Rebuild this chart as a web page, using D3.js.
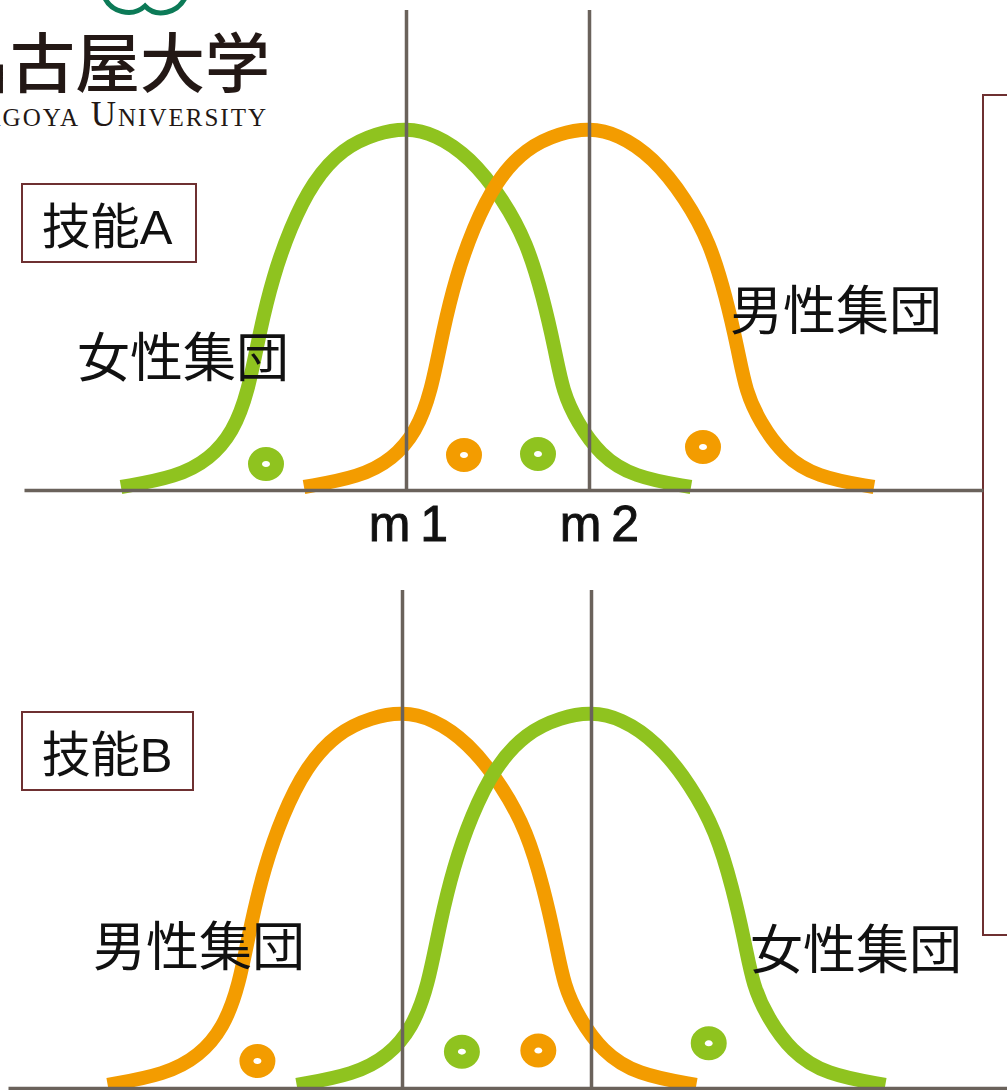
<!DOCTYPE html>
<html>
<head>
<meta charset="utf-8">
<script src="https://cdn.jsdelivr.net/npm/d3@7"></script>
<style>
  html, body { margin: 0; padding: 0; background: #fff; overflow: hidden; }
  text { fill: #111; font-family: "Liberation Sans", "Noto Sans CJK JP", sans-serif; }
</style>
</head>
<body>
<svg id="chart" width="1007" height="1090"></svg>
<script>
// Curve shape: offset from the group mean, height above baseline
const curveOffsets = [-285, -229, -196, -173, -158, -146, -133, -116, -93, -63, -29, 0, 29, 64, 97, 121, 137, 149, 157, 171, 194, 227, 285];
const curveHeights = [3, 13, 31, 58, 97, 160, 213, 262, 309, 342, 357, 362, 356, 333, 291, 247, 193, 140, 98, 68, 35, 13, 3];

// Group means (tick positions) and their labels
const means = [0, 183];
const meanLabels = ["m 1", "m 2"];

// Small ring markers: first group sits on the left curve, second on the right
const leftDotScores = [-140, 132];
const leftDotHeights = [26, 36];
const rightDotScores = [58, 297];
const rightDotHeights = [35, 43];

const GREEN = "#8fc31f", ORANGE = "#f39c00", AXIS = "#6a625b", BOX = "#6e3031";

const panels = [
    { title: "技能A", left: "女性集団", right: "男性集団", leftColor: GREEN, rightColor: ORANGE,
      xRange: [406, 589], yRange: [490, 130], axisFrom: 24, axisTo: 983, tickTop: 10, tickText: meanLabels,
      box: [22, 184, 174, 78], titleX: 107, titleY: 227, leftX: 183, leftY: 358, rightX: 836, rightY: 311 },
    { title: "技能B", left: "男性集団", right: "女性集団", leftColor: ORANGE, rightColor: GREEN,
      xRange: [402, 591], yRange: [1088, 714], axisFrom: 8, axisTo: 1007, tickTop: 590, tickText: ["", ""],
      box: [22, 712, 171, 78], titleX: 107, titleY: 755, leftX: 199, leftY: 947, rightX: 856, rightY: 950 }
];

// Nudge of the tick labels so they sit where the picture has them
const labelNudge = [2, 10];

const svg = d3.select("#chart");

// Logo
svg.append("path")
    .attr("d", "M104,-4 C110,12 132,18 145,6 C156,18 178,14 186,-4")
    .attr("fill", "none")
    .attr("stroke", "#0c7a57")
    .attr("stroke-width", 5);
svg.append("text")
    .attr("x", 270).attr("y", 87)
    .attr("text-anchor", "end")
    .style("font-size", "65px")
    .style("font-weight", 500)
    .style("font-family", "'Noto Sans CJK JP'")
    .style("fill", "#231815")
    .text("名古屋大学");
svg.append("text")
    .attr("x", 268).attr("y", 126)
    .attr("text-anchor", "end")
    .style("font-family", "'Liberation Serif'")
    .style("font-variant", "small-caps")
    .style("font-size", "35px")
    .style("letter-spacing", "2px")
    .style("fill", "#231815")
    .text("Nagoya University");

// Bracket at the right edge
svg.append("path")
    .attr("d", "M1007,95 H983 V935 H1007")
    .attr("fill", "none")
    .attr("stroke", BOX)
    .attr("stroke-width", 2);

panels.forEach(p => {
    const pxPerUnit = (p.xRange[1] - p.xRange[0]) / (means[1] - means[0]);

    const xScale = d3.scaleLinear()
        .domain([means[0] + (p.axisFrom - p.xRange[0]) / pxPerUnit, means[1] + (p.axisTo - p.xRange[1]) / pxPerUnit])
        .range([p.axisFrom, p.axisTo]);

    const yScale = d3.scaleLinear()
        .domain([0, 360])
        .range(p.yRange);

    const g = svg.append("g");

    // Curves, left group first
    [[means[0], p.leftColor], [means[1], p.rightColor]].forEach(([mean, color]) => {
        const line = d3.line()
            .x(i => xScale(mean + curveOffsets[i]))
            .y(i => yScale(curveHeights[i]))
            .curve(d3.curveBasis);
        g.append("path")
            .attr("d", line(d3.range(curveOffsets.length)))
            .attr("fill", "none")
            .attr("stroke", color)
            .attr("stroke-width", 14);
    });

    // Ring markers
    [[leftDotScores, leftDotHeights, p.leftColor], [rightDotScores, rightDotHeights, p.rightColor]].forEach(([xs, hs, color]) => {
        g.selectAll(null)
            .data(xs.map((x, i) => [x, hs[i]]))
            .enter().append("ellipse")
            .attr("cx", d => xScale(d[0]))
            .attr("cy", d => yScale(d[1]))
            .attr("rx", 11)
            .attr("ry", 10)
            .attr("fill", "#fff")
            .attr("stroke", color)
            .attr("stroke-width", 14);
    });

    // Axis: the ticks run up as the mean lines
    const axis = g.append("g")
        .attr("transform", `translate(0,${p.yRange[0]})`)
        .call(d3.axisBottom(xScale)
            .tickValues(means)
            .tickSizeInner(-(p.yRange[0] - p.tickTop))
            .tickSizeOuter(0)
            .tickPadding(15)
            .tickFormat((d, i) => p.tickText[i]));
    axis.select(".domain").attr("stroke", AXIS).attr("stroke-width", 3.5);
    axis.selectAll(".tick line").attr("stroke", AXIS).attr("stroke-width", 3.5);
    axis.selectAll(".tick text")
        .attr("dx", (d, i) => labelNudge[i])
        .attr("fill", "#111")
        .attr("stroke", "#111")
        .attr("stroke-width", 0.9)
        .style("font-family", "'Liberation Sans'")
        .style("font-size", "50px")
        .style("word-spacing", "-4px");

    // Title box
    g.append("rect")
        .attr("x", p.box[0]).attr("y", p.box[1])
        .attr("width", p.box[2]).attr("height", p.box[3])
        .attr("fill", "#fff")
        .attr("stroke", BOX)
        .attr("stroke-width", 2);
    g.append("text")
        .attr("x", p.titleX).attr("y", p.titleY)
        .attr("text-anchor", "middle")
        .attr("dominant-baseline", "central")
        .style("font-size", "49px")
        .text(p.title);

    // Group names
    [[p.left, p.leftX, p.leftY], [p.right, p.rightX, p.rightY]].forEach(([name, x, y]) => {
        g.append("text")
            .attr("x", x).attr("y", y)
            .attr("text-anchor", "middle")
            .attr("dominant-baseline", "central")
            .style("font-size", "53px")
            .text(name);
    });
});
</script>
</body>
</html>
